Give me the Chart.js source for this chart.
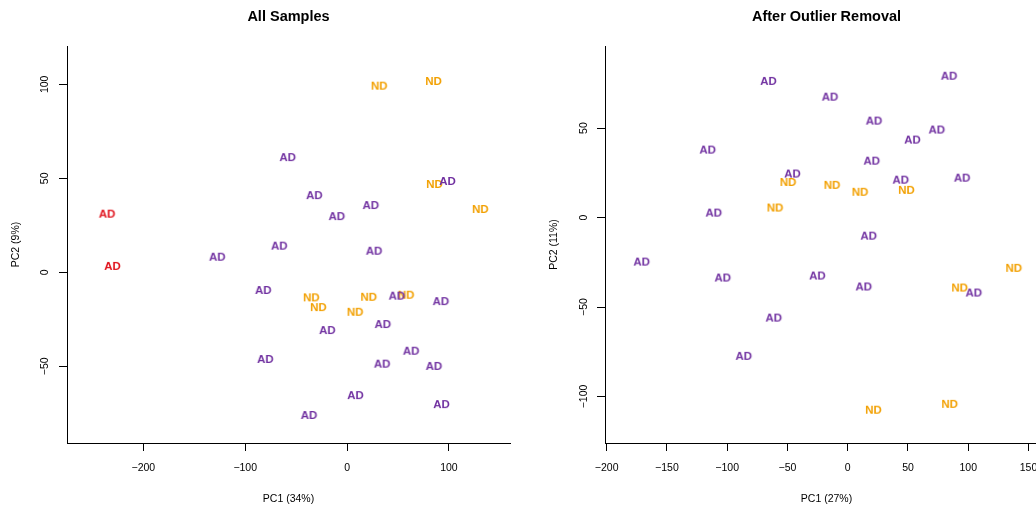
<!DOCTYPE html>
<html>
<head>
<meta charset="utf-8">
<script src="https://cdn.jsdelivr.net/npm/chart.js@4/dist/chart.umd.min.js"></script>
<style>
  html, body { margin: 0; padding: 0; background: #fff; width: 1036px; height: 510px; overflow: hidden; position: relative; }
  canvas { position: absolute; top: 0; }
  #left { left: 0; }
  #right { left: 538px; }
</style>
</head>
<body>
<canvas id="left" width="518" height="510"></canvas>
<canvas id="right" width="518" height="510"></canvas>
<script>
// All Samples: PC1 / PC2 scores
const allAdX = [-58.3, 98.6, -32.2, 23.3, -10.1, -66.6, 26.5, -127.5, -82.3, 48.9, 92.1, 35.1, -19.4, -80.3, 62.9, 34.4, 85.3, 8.2, 92.7, -37.4];
const allAdY = [61.3, 48.6, 41.1, 35.8, 29.9, 14.2, 11.5, 8.3, -9.4, -12.4, -15.3, -27.5, -30.7, -46.1, -41.7, -48.6, -49.8, -65.3, -70.1, -75.9];
const outlierX = [-235.7, -230.4];
const outlierY = [31.2, 3.4];
const allNdX = [31.5, 84.9, 85.8, 130.8, -35.1, -28.2, 21.3, 58.0, 7.9];
const allNdY = [99.3, 101.8, 47.0, 33.7, -13.3, -18.5, -13.0, -11.9, -21.0];

// After Outlier Removal
const remAdX = [-65.8, -14.7, 84.1, 21.8, 73.9, 53.7, -116.2, 19.9, -45.9, 44.0, 94.9, -111.2, 17.4, -171.0, -103.7, -25.2, 13.3, 104.6, -61.4, -86.3];
const remAdY = [76.4, 67.6, 79.3, 54.2, 49.2, 43.6, 38.0, 31.8, 24.6, 21.2, 22.3, 2.8, -10.1, -24.6, -33.5, -32.4, -38.5, -41.9, -55.9, -77.3];
const remNdX = [-49.5, -13.0, 10.2, 48.7, -60.3, 137.8, 92.9, 21.3, 84.6];
const remNdY = [19.9, 18.3, 14.4, 15.5, 5.6, -28.1, -39.1, -107.4, -104.1];

const leftXTicks = [-200, -100, 0, 100];
const leftYTicks = [-50, 0, 50, 100];
const rightXTicks = [-200, -150, -100, -50, 0, 50, 100, 150];
const rightYTicks = [-100, -50, 0, 50];

const FAMILY = '"Liberation Sans", Arial, Helvetica, sans-serif';
const PURPLE = '#7030a0', RED = '#e0101a', ORANGE = '#f2a000';

// text label used as the point glyph (like R's text())
function textMark(txt, color) {
  let c = document.createElement('canvas');
  let ctx = c.getContext('2d');
  let font = 'bold 11.5px ' + FAMILY;
  ctx.font = font;
  let w = Math.ceil(ctx.measureText(txt).width) + 2;
  c.width = w; c.height = 16;
  ctx.font = font;
  ctx.fillStyle = color;
  ctx.textAlign = 'center';
  ctx.textBaseline = 'middle';
  ctx.fillText(txt, w / 2, 9);
  return c;
}

function pts(xs, ys) {
  return xs.map((x, i) => ({x: x, y: ys[i]}));
}

function fmt(v) {
  return v < 0 ? '\u2212' + Math.abs(v) : String(v);
}

function makeChart(id, title, datasets, xr, yr, xTicks, yTicks, xTitle, yTitle, yPad) {
  let tickFont = {family: FAMILY, size: 10.5};
  new Chart(document.getElementById(id), {
    type: 'scatter',
    data: {datasets: datasets},
    options: {
      responsive: false,
      animation: false,
      devicePixelRatio: 1,
      layout: {padding: {left: 0, right: 8, top: 0, bottom: 0}},
      plugins: {
        legend: {display: false},
        tooltip: {enabled: false},
        title: {
          display: true, text: title, color: '#000', fullSize: false,
          font: {family: FAMILY, size: 14.5, weight: 'bold', lineHeight: 1.2},
          padding: {top: 8, bottom: 20.6}
        }
      },
      scales: {
        x: {
          type: 'linear', position: 'bottom', min: xr[0], max: xr[1],
          afterBuildTicks: s => { s.ticks = xTicks.map(v => ({value: v})); },
          afterFit: s => { s.height = 67; },
          grid: {drawOnChartArea: false, tickLength: 8, color: '#000'},
          border: {color: '#000', width: 1},
          ticks: {color: '#000', font: tickFont, padding: 11, maxRotation: 0, callback: fmt},
          title: {display: true, text: xTitle, color: '#000', font: tickFont, padding: {top: 0, bottom: 5}}
        },
        y: {
          type: 'linear', position: 'left', min: yr[0], max: yr[1],
          afterBuildTicks: s => { s.ticks = yTicks.map(v => ({value: v})); },
          afterFit: s => { s.width = 67; },
          grid: {drawOnChartArea: false, tickLength: 8, color: '#000'},
          border: {color: '#000', width: 1},
          ticks: {color: '#000', font: tickFont, padding: yPad, minRotation: 90, maxRotation: 90, crossAlign: 'center', callback: fmt},
          title: {display: true, text: yTitle, color: '#000', font: tickFont, padding: {top: 9.5, bottom: 0}}
        }
      }
    }
  });
}

const adMark = textMark('AD', PURPLE), redMark = textMark('AD', RED), ndMark = textMark('ND', ORANGE);

makeChart('left', 'All Samples', [
  {label: 'AD', data: pts(allAdX, allAdY), pointStyle: adMark, pointRadius: 3},
  {label: 'AD outlier', data: pts(outlierX, outlierY), pointStyle: redMark, pointRadius: 3},
  {label: 'ND', data: pts(allNdX, allNdY), pointStyle: ndMark, pointRadius: 3}
], [-275, 160], [-90.8, 120.4], leftXTicks, leftYTicks, 'PC1 (34%)', 'PC2 (9%)', 4.5);

makeChart('right', 'After Outlier Removal', [
  {label: 'AD', data: pts(remAdX, remAdY), pointStyle: adMark, pointRadius: 3},
  {label: 'ND', data: pts(remNdX, remNdY), pointStyle: ndMark, pointRadius: 3}
], [-201.4, 166.2], [-126, 95.9], rightXTicks, rightYTicks, 'PC1 (27%)', 'PC2 (11%)', 0.8);
</script>
</body>
</html>
